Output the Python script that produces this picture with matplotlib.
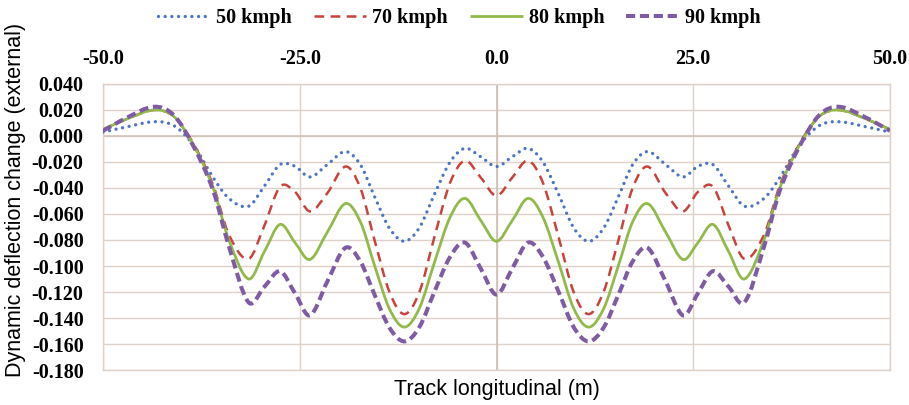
import matplotlib
matplotlib.use("Agg")
import matplotlib.pyplot as plt
from matplotlib.path import Path
from matplotlib.patches import PathPatch
from matplotlib.lines import Line2D
import numpy as np

plt.rcParams['lines.scale_dashes'] = False

# Track position (m)
track_x = [-50, -47, -43.5, -41, -38.5, -36, -34, -31.5, -29.5, -27.5, -25.6, -23.7,
           -21.5, -19.2, -17.3, -15.5, -13.6, -11.7, -9.8, -7.9, -5.9, -4, -2, 0,
           2, 4, 5.9, 7.9, 9.8, 11.7, 13.6, 15.5, 17.3, 19.2, 21.5, 23.7,
           25.6, 27.5, 29.5, 31.5, 34, 36, 38.5, 41, 43.5, 47, 50]

v50 = [0.003, 0.007, 0.011, 0.008, -0.007, -0.032, -0.048, -0.054, -0.0386, -0.022, -0.0233, -0.0315,
       -0.022, -0.012, -0.022, -0.0465, -0.071, -0.081, -0.0705, -0.045, -0.020, -0.0095, -0.016, -0.0235,
       -0.016, -0.0095, -0.020, -0.045, -0.0705, -0.081, -0.071, -0.0465, -0.022, -0.012, -0.022, -0.0315,
       -0.0233, -0.022, -0.0386, -0.054, -0.048, -0.032, -0.007, 0.008, 0.011, 0.007, 0.003]

v70 = [0.005, 0.013, 0.020, 0.015, -0.006, -0.038, -0.076, -0.0945, -0.069, -0.039, -0.043, -0.058,
       -0.044, -0.0235, -0.040, -0.080, -0.120, -0.137, -0.120, -0.078, -0.036, -0.019, -0.032, -0.046,
       -0.032, -0.019, -0.036, -0.078, -0.120, -0.137, -0.120, -0.080, -0.040, -0.0235, -0.044, -0.058,
       -0.043, -0.039, -0.069, -0.0945, -0.076, -0.038, -0.006, 0.015, 0.020, 0.013, 0.005]

v80 = [0.005, 0.013, 0.020, 0.015, -0.007, -0.040, -0.080, -0.110, -0.089, -0.068, -0.082, -0.095,
       -0.074, -0.052, -0.066, -0.0995, -0.133, -0.147, -0.1325, -0.0975, -0.0625, -0.048, -0.065, -0.081,
       -0.065, -0.048, -0.0625, -0.0975, -0.1325, -0.147, -0.133, -0.0995, -0.066, -0.052, -0.074, -0.095,
       -0.082, -0.068, -0.089, -0.110, -0.080, -0.040, -0.007, 0.015, 0.020, 0.013, 0.005]

v90 = [0.004, 0.014, 0.0225, 0.016, -0.008, -0.042, -0.085, -0.128, -0.116, -0.104, -0.121, -0.138,
       -0.112, -0.086, -0.0965, -0.122, -0.1475, -0.158, -0.147, -0.120, -0.093, -0.082, -0.102, -0.122,
       -0.102, -0.082, -0.093, -0.120, -0.147, -0.158, -0.1475, -0.122, -0.0965, -0.086, -0.112, -0.138,
       -0.121, -0.104, -0.116, -0.128, -0.085, -0.042, -0.008, 0.016, 0.0225, 0.014, 0.004]

series_labels = ["50 kmph", "70 kmph", "80 kmph", "90 kmph"]
x_ticks = [-50, -25, 0, 25, 50]
y_ticks = [0.04, 0.02, 0.0, -0.02, -0.04, -0.06, -0.08, -0.10, -0.12, -0.14, -0.16, -0.18]


def smooth_path(x, y):
    x = np.asarray(x, float)
    y = np.asarray(y, float)
    n = len(x)
    m = np.empty(n)
    m[1:-1] = (y[2:] - y[:-2]) / (x[2:] - x[:-2])
    m[0] = (y[1] - y[0]) / (x[1] - x[0])
    m[-1] = (y[-1] - y[-2]) / (x[-1] - x[-2])
    verts = [(x[0], y[0])]
    codes = [Path.MOVETO]
    for i in range(n - 1):
        h = x[i + 1] - x[i]
        verts += [(x[i] + h / 3, y[i] + m[i] * h / 3),
                  (x[i + 1] - h / 3, y[i + 1] - m[i + 1] * h / 3),
                  (x[i + 1], y[i + 1])]
        codes += [Path.CURVE4] * 3
    return Path(verts, codes)


styles = [
    dict(color='#4F74C2', lw=2.4, ls=(0, (0.01, 4.8)), cap='round'),
    dict(color='#C8433D', lw=1.8, ls=(0, (7.0, 4.6)), cap='butt'),
    dict(color='#92BA4A', lw=2.0, ls='-', cap='round'),
    dict(color='#7E5BA3', lw=2.9, ls=(0, (6.6, 3.4)), cap='butt'),
]

fig = plt.figure(figsize=(9.09, 4.05), dpi=100)
ax = fig.add_axes([103 / 909, 1 - 370 / 405, (890 - 103) / 909, (370 - 84) / 405])

grid_c = '#DDD1C8'
ax.set_xlim(-50, 50)
ax.set_ylim(-0.18, 0.04)
ax.set_xticks(x_ticks)
ax.set_yticks(y_ticks)
ax.xaxis.tick_top()
ax.set_xticklabels([f"{v:.1f}" for v in x_ticks])
ax.set_yticklabels([f"{v:.3f}" for v in y_ticks])
ax.tick_params(axis='x', length=0, pad=11)
ax.tick_params(axis='y', length=0, pad=14)
for lab in ax.get_xticklabels() + ax.get_yticklabels():
    lab.set_fontfamily('Liberation Serif')
    lab.set_fontweight('bold')
    lab.set_fontsize(14.5)
ax.grid(True, color=grid_c, lw=1.0)
ax.axvline(0, color='#CDBFB5', lw=1.2, zorder=1)
ax.axhline(0, color='#D2C4BA', lw=1.2, zorder=1)
for s in ax.spines.values():
    s.set_color(grid_c)
    s.set_linewidth(1.0)
ax.set_axisbelow(True)

series = [v50, v70, v80, v90]
handles = []
for vals, st, k in zip(series, styles, range(4)):
    patch = PathPatch(smooth_path(track_x, vals), fill=False, edgecolor=st['color'],
                      lw=st['lw'], linestyle=st['ls'], capstyle=st['cap'], joinstyle='round',
                      zorder=3 + k)
    ax.add_patch(patch)
    handles.append(Line2D([], [], color=st['color'], lw=st['lw'], linestyle=st['ls'],
                          dash_capstyle=st['cap'], solid_capstyle='butt'))

fig.legend(handles, series_labels, loc='center', bbox_to_anchor=(0.505, 1 - 18 / 405),
           ncol=4, frameon=False, handlelength=2.6, handletextpad=0.3, columnspacing=1.1,
           prop=dict(family='Liberation Serif', weight='bold', size=14.5))

fig.text(16 / 909, 1 - 200 / 405, "Dynamic deflection change (external)", rotation=90,
         ha='center', va='center', family='Liberation Sans', fontsize=15.5)
fig.text(497 / 909, 1 - 389 / 405, "Track longitudinal (m)", ha='center', va='center',
         family='Liberation Sans', fontsize=15.5)

fig.savefig("out.png", dpi=100)
